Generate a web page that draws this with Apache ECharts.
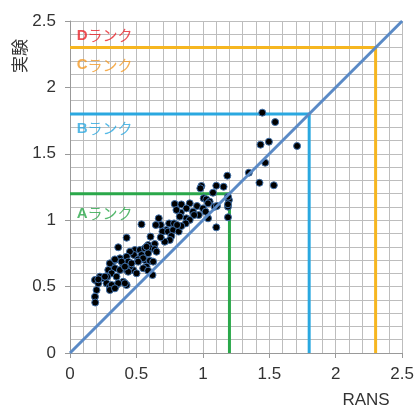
<!DOCTYPE html>
<html>
<head>
<meta charset="utf-8">
<script src="https://cdn.jsdelivr.net/npm/echarts@6/dist/echarts.min.js"></script>
<style>
html,body{margin:0;padding:0;background:#fff;}
#main{width:417px;height:405px;}
</style>
</head>
<body>
<div id="main"></div>
<script>
// 散布点 [RANS, 実験]
var points = [
	[1.184,1.335],[0.989,1.258],[1.101,1.260],[1.156,1.252],[0.981,1.240],
	[0.788,1.122],[0.838,1.119],[0.901,1.127],[0.956,1.107],[0.876,1.089],
	[0.926,1.064],[1.006,1.165],[1.026,1.157],[1.051,1.140],[1.076,1.207],
	[1.039,1.127],[1.001,1.089],[1.021,1.064],[1.089,1.102],[1.106,1.107],
	[0.969,1.039],[0.934,1.039],[0.876,1.014],[0.834,1.057],[0.801,1.077],
	[0.826,1.027],[0.901,1.002],[0.871,0.976],[1.189,1.102],[1.196,1.152],
	[1.189,1.022],[1.101,0.946],[1.039,1.014],[0.668,1.014],[0.683,0.964],
	[0.646,0.964],[0.746,0.976],[0.726,0.926],[0.696,0.914],[0.738,0.914],
	[0.776,0.926],[0.818,0.914],[0.783,0.976],[0.838,0.956],[0.806,0.964],
	[0.763,0.881],[0.751,0.851],[0.713,0.838],[0.683,0.871],[0.606,0.876],
	[0.588,0.813],[0.638,0.821],[0.538,0.969],[0.426,0.868],[0.488,0.776],
	[0.526,0.776],[0.563,0.788],[0.608,0.788],[0.638,0.781],[0.651,0.763],
	[0.588,0.751],[0.538,0.738],[0.481,0.738],[0.451,0.763],[0.426,0.725],
	[0.376,0.713],[0.363,0.796],[0.401,0.663],[0.438,0.688],[0.513,0.705],
	[0.563,0.700],[0.601,0.695],[0.626,0.688],[0.576,0.650],[0.551,0.638],
	[0.476,0.625],[0.451,0.650],[0.426,0.625],[0.388,0.688],[0.338,0.700],
	[0.313,0.663],[0.338,0.638],[0.376,0.625],[0.288,0.625],[0.313,0.600],
	[0.350,0.575],[0.280,0.575],[0.255,0.562],[0.225,0.575],[0.188,0.550],
	[0.213,0.525],[0.275,0.525],[0.300,0.500],[0.350,0.512],[0.426,0.512],
	[0.401,0.537],[0.313,0.512],[0.200,0.474],[0.188,0.424],[0.588,0.620],
	[0.621,0.587],[0.190,0.380],[0.576,0.800],[0.300,0.675],[0.338,0.705],
	[0.213,0.555],[0.263,0.575],[0.363,0.525],[0.413,0.525],[0.300,0.474],
	[0.338,0.487],[0.501,0.600],[0.438,0.612],[0.550,0.713],[0.513,0.688],
	[0.463,0.675],[0.413,0.650],[1.189,1.177],[1.189,1.120],
	[1.447,1.810],[1.544,1.739],[1.434,1.569],[1.497,1.591],[1.709,1.559],
	[1.469,1.433],[1.346,1.358],[1.426,1.282],[1.534,1.263]
];

// 対角線
var diagonal = [[0,0],[2.5,2.5]];

// ランク
var rankNames = ['A','B','C','D'];
var rankLimits = [1.2, 1.8, 2.3, null];
var rankLabelY = [1.05, 1.69, 2.17, 2.39];
var rankColors = ['#2aa84a','#2aa8e0','#f6b620','#e8242a'];
var rankTextColors = ['#2aa84a','#2aa8e0','#f49a25','#e8242a'];

var axisTicks = [0, 0.5, 1, 1.5, 2, 2.5];

var myChart = echarts.init(document.getElementById('main'));

var series = [];

//ランクの線
for (var i = 0; i < rankNames.length; i++) {
	if (rankLimits[i] == null) continue;
	var v = rankLimits[i];
	series.push({
		type: 'line',
		data: [[0, v], [v, v], [v, 0]],
		symbol: 'none',
		silent: true,
		z: 3,
		lineStyle: { color: rankColors[i], width: 3 }
	});
}

//散布図
series.push({
	type: 'scatter',
	data: points,
	symbolSize: 7,
	z: 4,
	itemStyle: {
		color: '#000',
		borderColor: '#3f6fa8',
		borderWidth: 1,
		opacity: 1
	}
});

//対角線
series.push({
	type: 'line',
	data: diagonal,
	symbol: 'none',
	silent: true,
	z: 5,
	lineStyle: { color: '#5a8ac6', width: 3 }
});

//ランクの文字
for (var i = 0; i < rankNames.length; i++) {
	(function(idx) {
		series.push({
			type: 'scatter',
			data: [[0.05, rankLabelY[idx]]],
			symbolSize: 0,
			silent: true,
			z: 6,
			label: {
				show: true,
				position: 'right',
				distance: 0,
				formatter: '{b|' + rankNames[idx] + '}{n|ランク}',
				rich: {
					b: { color: rankTextColors[idx], fontSize: 15, fontWeight: 'bold', fontFamily: 'Liberation Sans' },
					n: { color: rankTextColors[idx], fontSize: 15, fontFamily: 'Noto Sans CJK JP' }
				}
			}
		});
	})(i);
}

var option = {
	animation: false,
	grid: { left: 70, right: 14, top: 21, bottom: 52, containLabel: false },
	xAxis: {
		type: 'value',
		min: axisTicks[0],
		max: axisTicks[axisTicks.length - 1],
		interval: 0.5,
		axisLine: { show: true, lineStyle: { color: '#999', width: 1 } },
		axisTick: { show: true, length: 5, lineStyle: { color: '#999' } },
		axisLabel: { color: '#333', fontSize: 17, margin: 13, fontFamily: 'Liberation Sans' },
		splitLine: { show: true, lineStyle: { color: '#bdbdbd', width: 1 } },
		minorTick: { show: false, splitNumber: 5 },
		minorSplitLine: { show: true, lineStyle: { color: '#bdbdbd', width: 1 } }
	},
	yAxis: {
		type: 'value',
		min: axisTicks[0],
		max: axisTicks[axisTicks.length - 1],
		interval: 0.5,
		axisLine: { show: true, lineStyle: { color: '#999', width: 1 } },
		axisTick: { show: true, length: 5, lineStyle: { color: '#999' } },
		axisLabel: { color: '#333', fontSize: 17, margin: 14, fontFamily: 'Liberation Sans' },
		splitLine: { show: true, lineStyle: { color: '#bdbdbd', width: 1 } },
		minorTick: { show: false, splitNumber: 5 },
		minorSplitLine: { show: true, lineStyle: { color: '#bdbdbd', width: 1 } }
	},
	graphic: [{
		type: 'text',
		x: 20,
		y: 56,
		rotation: Math.PI / 2,
		style: {
			text: '実験',
			fill: '#333',
			font: '17px "Noto Sans CJK JP"',
			textAlign: 'center',
			textVerticalAlign: 'middle'
		}
	}, {
		type: 'text',
		x: 366,
		y: 400,
		style: {
			text: 'RANS',
			fill: '#333',
			font: '17px "Liberation Sans"',
			textAlign: 'center',
			textVerticalAlign: 'middle'
		}
	}],
	series: series
};

myChart.setOption(option);
</script>
</body>
</html>
